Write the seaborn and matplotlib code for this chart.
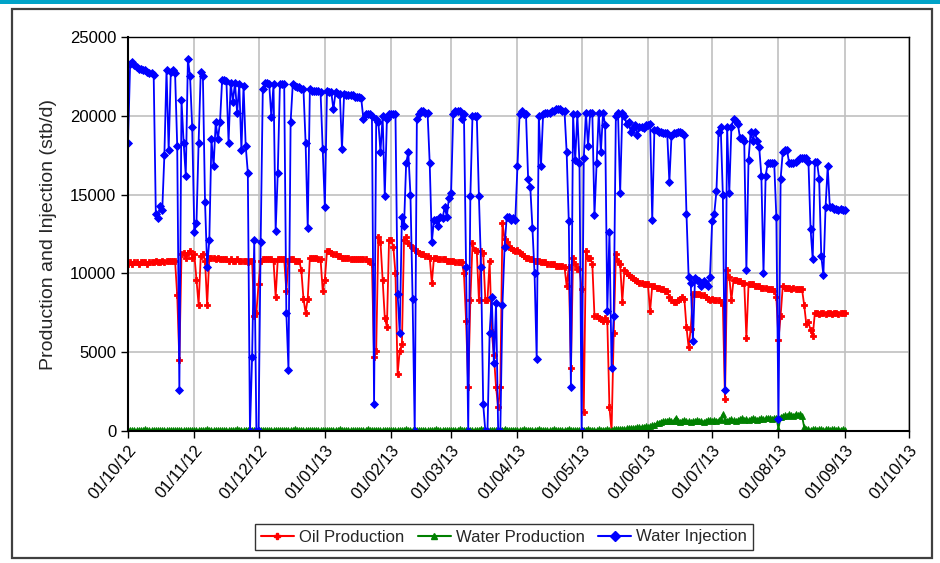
import matplotlib
matplotlib.use("Agg")
import matplotlib.pyplot as plt
import matplotlib.dates as mdates
from matplotlib.patches import Rectangle
from matplotlib.lines import Line2D
import pandas as pd
import seaborn as sns

# ---------------- data (daily, 01/10/12 .. 01/09/13) ----------------
start_date = "2012-10-01"
end_date = "2013-09-01"

oil_production = [
    # Oct 2012
    10600, 10700, 10600, 10700, 10700, 10600, 10700, 10700, 10700, 10600,
    10700, 10700, 10700, 10800, 10700, 10700, 10800, 10700, 10800, 10800,
    10800, 10800, 10800, 8600, 4500, 11200, 11300, 11000, 11300, 11400, 11000,
    # Nov
    11200, 9600, 8000, 11100, 11200, 10800, 8000, 11000, 11000, 11000,
    10900, 11000, 10900, 10900, 10900, 10900, 10800, 10900, 10800, 10800,
    10900, 10800, 10800, 10800, 10800, 10700, 10800, 10800, 7300, 7500,
    # Dec
    9300, 10800, 10900, 10900, 10900, 10900, 10900, 10800, 8500, 10900,
    10900, 10900, 10900, 8900, 10800, 10900, 10900, 10800, 10800, 10800,
    10200, 8400, 7500, 8400, 11000, 11000, 11000, 11000, 10900, 10900, 8900,
    # Jan 2013
    9600, 11400, 11400, 11300, 11200, 11200, 11100, 11100, 11000, 11000,
    11000, 11000, 10900, 10900, 10900, 10900, 10900, 10900, 10900, 10900,
    10800, 10800, 10600, 4700, 5100, 12300, 12000, 9600, 7200, 6600, 12100,
    # Feb
    12100, 11700, 10000, 3600, 5100, 5500, 12100, 12300, 11900, 11800,
    11600, 11500, 11400, 11300, 11200, 11200, 11100, 11100, 11000, 9400,
    11000, 11000, 10900, 10900, 10900, 10900, 10800, 10800,
    # Mar
    10800, 10800, 10700, 10700, 10700, 10700, 10000, 7000, 2800, 8300,
    11900, 11500, 11400, 8300, 11400, 11300, 8300, 8300, 10800, 6300,
    4800, 2800, 1500, 2800, 13200, 12200, 12000, 11700, 11600, 11500, 11400,
    # Apr
    11500, 11300, 11200, 11100, 11000, 11000, 10900, 10900, 10800, 10800,
    10800, 10700, 10700, 10700, 10600, 10600, 10600, 10600, 10500, 10500,
    10500, 10500, 10400, 9200, 10400, 4000, 11000, 10600, 10300, 10300,
    # May
    9000, 1200, 11400, 11000, 11000, 10600, 7300, 7300, 7200, 7100,
    7000, 7200, 7000, 1500, 0, 6200, 11200, 10800, 10600, 8200,
    10200, 10000, 9900, 9800, 9700, 9600, 9500, 9400, 9400, 9300, 9300,
    # Jun
    9300, 7600, 9200, 9200, 9100, 9100, 9000, 9000, 8900, 8900,
    8500, 8300, 8200, 8200, 8300, 8400, 8500, 8400, 6600, 5300,
    6500, 8700, 8700, 8700, 8700, 8600, 8600, 8500, 8400, 8300,
    # Jul
    8400, 8300, 8300, 8300, 8200, 8000, 2000, 10200, 9800, 8300,
    9600, 9600, 9500, 9500, 9400, 9400, 5900, 9300, 9300, 9300,
    9200, 9200, 9200, 9100, 9100, 9100, 9000, 9000, 9000, 8900, 8500,
    # Aug
    5800, 7300, 9200, 9100, 9100, 9100, 9000, 9100, 9000, 9000,
    9000, 9000, 8000, 6800, 6900, 6400, 6000, 7500, 7500, 7400,
    7500, 7500, 7400, 7500, 7500, 7400, 7500, 7500, 7400, 7500, 7500,
    # Sep
    7500,
]

water_production = [
    # Oct
    80, 60, 70, 90, 60, 80, 70, 60, 150, 60, 80, 70, 90, 60, 70, 80,
    60, 90, 70, 60, 80, 70, 60, 90, 70, 60, 80, 70, 60, 80, 70,
    # Nov
    70, 80, 60, 90, 70, 60, 150, 80, 70, 60, 90, 70, 80, 60, 70,
    90, 60, 80, 70, 60, 150, 70, 80, 60, 90, 70, 80, 60, 70, 80,
    # Dec
    60, 80, 70, 90, 60, 80, 70, 60, 90, 70, 80, 60, 70, 90, 60, 80,
    70, 150, 60, 80, 70, 90, 60, 80, 70, 60, 90, 70, 80, 60, 70,
    # Jan
    80, 70, 60, 90, 70, 80, 60, 150, 70, 80, 60, 90, 70, 80, 60, 70,
    90, 60, 80, 70, 150, 60, 80, 70, 90, 60, 80, 70, 60, 90, 70,
    # Feb
    80, 60, 70, 90, 60, 80, 70, 150, 60, 80, 70, 90, 60, 70,
    80, 60, 90, 70, 60, 80, 70, 150, 60, 80, 70, 90, 60, 80,
    # Mar
    70, 80, 60, 90, 150, 70, 80, 60, 70, 90, 60, 80, 70, 60, 150, 80,
    70, 60, 90, 70, 80, 60, 70, 90, 60, 150, 80, 70, 60, 90, 70,
    # Apr
    80, 70, 60, 150, 80, 70, 90, 60, 80, 70, 150, 60, 90, 70, 80,
    60, 70, 150, 90, 60, 80, 70, 60, 90, 150, 80, 70, 60, 90, 80,
    # May
    70, 80, 60, 150, 90, 70, 80, 60, 100, 80, 70, 90, 100, 80, 90, 100,
    120, 100, 130, 150, 140, 160, 180, 200, 190, 220, 240, 230, 260, 280, 300,
    # Jun
    250, 300, 350, 400, 480, 520, 600, 640, 620, 650, 700, 640, 620, 850, 640,
    600, 650, 700, 640, 620, 600, 650, 640, 700, 640, 620, 600, 650, 700, 680,
    # Jul
    650, 700, 640, 700, 750, 1060, 700, 650, 700, 750, 700, 640, 700, 750, 800,
    700, 750, 700, 760, 800, 750, 700, 760, 800, 750, 800, 850, 800, 760, 820, 850,
    # Aug
    150, 900, 950, 1000, 950, 1050, 1000, 950, 1100, 1000, 1050, 950, 250, 150, 100,
    80, 120, 100, 90, 100, 120, 80, 100, 110, 90, 100, 120, 80, 100, 90, 100,
    # Sep
    90,
]

water_injection = [
    # Oct
    18300, 23300, 23400, 23200, 23100, 23000, 23000, 22900, 22900, 22800,
    22700, 22700, 22600, 13800, 13500, 14300, 14000, 17500, 22900, 17800,
    22800, 22900, 22700, 18100, 2600, 21000, 18300, 16200, 23600, 22500, 19300,
    # Nov
    12600, 13200, 18300, 22800, 22500, 14500, 10400, 12100, 18500, 16800,
    19600, 18500, 19600, 22300, 22300, 22200, 18300, 22100, 20900, 22100,
    20200, 22000, 17800, 21900, 18100, 16400, 0, 4700, 12100, 0,
    # Dec
    0, 12000, 21700, 22100, 22100, 22000, 19900, 22000, 12700, 16400,
    22000, 22000, 22000, 7500, 3900, 19600, 22000, 21900, 21800, 21800,
    21700, 21700, 18300, 12900, 21700, 21600, 21600, 21600, 21600, 21500, 17900,
    # Jan
    14200, 21600, 21500, 21500, 20400, 21500, 21400, 21400, 17900, 21400,
    21300, 21300, 21300, 21300, 21200, 21200, 21200, 21100, 19800, 20100,
    20100, 20100, 20000, 1700, 19800, 19600, 17700, 20000, 14900, 19800, 20100,
    # Feb
    20100, 20100, 20100, 8700, 6200, 13600, 13000, 17000, 17700, 15000,
    8400, 0, 19800, 20100, 20300, 20300, 20200, 20200, 17000, 12000,
    13400, 13400, 13000, 13600, 13500, 14200, 13600, 14800,
    # Mar
    15100, 20100, 20300, 20300, 20300, 19800, 20100, 10400, 0, 14900,
    20000, 20000, 20000, 14900, 10400, 1700, 0, 0, 6200, 8500,
    4300, 8100, 0, 0, 8000, 11700, 13600, 13600, 13400, 13500, 13400,
    # Apr
    16800, 20100, 20300, 20100, 20100, 16000, 15500, 12900, 10000, 4600,
    20000, 16800, 20100, 20200, 20200, 20200, 20300, 20300, 20400, 20400,
    20400, 20300, 20300, 17700, 13300, 2800, 20100, 17200, 20100, 17000,
    # May
    0, 17300, 20200, 18100, 20200, 20200, 13700, 17000, 20200, 17700,
    20200, 19400, 7600, 12600, 4000, 7300, 20000, 20200, 15100, 20200,
    20000, 19500, 19600, 19000, 19200, 19400, 18800, 19300, 19300, 19200, 19400,
    # Jun
    19400, 19500, 13400, 19100, 19100, 19000, 19000, 18900, 18900, 18900,
    15800, 18700, 18900, 18900, 19000, 19000, 18900, 18800, 13800, 9800,
    9400, 5700, 9700, 9600, 9500, 9200, 9500, 9300, 9200, 9800,
    # Jul
    13300, 13800, 15200, 19000, 19300, 15000, 2600, 19300, 15100, 19300,
    19800, 19700, 19500, 18600, 18600, 18400, 10200, 17200, 19000, 18400,
    19000, 18400, 18000, 16200, 10000, 16200, 17000, 17000, 17000, 17000, 13600,
    # Aug
    750, 16000, 17700, 17800, 17800, 17000, 17000, 17000, 17100, 17200,
    17300, 17300, 17300, 17300, 17100, 12800, 10900, 17100, 17100, 16000,
    11100, 9900, 14200, 16800, 14200, 14200, 14100, 14100, 14000, 14100, 14000,
    # Sep
    14000,
]

series_names = ["Oil Production", "Water Production", "Water Injection"]
series_colors = ["#FF0000", "#008000", "#0000FF"]
series_markers = ["P", "^", "D"]
y_ticks = [0, 5000, 10000, 15000, 20000, 25000]
y_label = "Production and Injection (stb/d)"

# ---------------- figure ----------------
sns.set_theme(style="white")
plt.rcParams["font.family"] = ["Liberation Sans", "DejaVu Sans"]

W, H = 940, 563
fig = plt.figure(figsize=(W / 100, H / 100), dpi=100)
fig.patch.set_facecolor("white")

# outer frame and thin top band
fig.patches.append(Rectangle((0, 1 - 4 / H), 1, 4 / H, transform=fig.transFigure,
                             facecolor="#00A3C8", edgecolor="none"))
fig.patches.append(Rectangle((12 / W, 1 - 558 / H), (932 - 12) / W, (558 - 9) / H,
                             transform=fig.transFigure, fill=False,
                             edgecolor="#404040", linewidth=1.6))

x0, x1, yt, yb = 128, 909, 37, 431
ax = fig.add_axes([x0 / W, 1 - yb / H, (x1 - x0) / W, (yb - yt) / H])

dates = pd.date_range(start_date, end_date, freq="D")
frames = []
for name, vals in zip(series_names, [oil_production, water_production, water_injection]):
    frames.append(pd.DataFrame({"date": dates, "value": vals, "series": name}))
df = pd.concat(frames, ignore_index=True)

for name, col, mk in zip(series_names, series_colors, series_markers):
    sub = df[df["series"] == name]
    sns.lineplot(data=sub, x="date", y="value", color=col, marker=mk,
                 markersize=4.2, markeredgewidth=0.6, markeredgecolor=col,
                 linewidth=1.3, estimator=None, ax=ax, legend=False)

ax.set_xlim(pd.Timestamp("2012-10-01"), pd.Timestamp("2013-10-01"))
ax.set_ylim(0, 25000)
ax.set_yticks(y_ticks)
ax.set_yticklabels([str(v) for v in y_ticks])
ax.xaxis.set_major_locator(mdates.MonthLocator())
ax.xaxis.set_major_formatter(mdates.DateFormatter("%d/%m/%y"))

ax.grid(True, color="#C0C0C0", linewidth=1.2)
ax.set_axisbelow(True)
for s in ax.spines.values():
    s.set_visible(True)
    s.set_color("black")
    s.set_linewidth(1.0)
ax.spines["left"].set_linewidth(1.5)
ax.spines["bottom"].set_linewidth(1.5)

ax.tick_params(axis="both", direction="out", length=5, width=1, color="black",
               labelsize=12, labelcolor="black", left=True, bottom=True)
for lab in ax.get_xticklabels():
    lab.set_rotation(50)
    lab.set_ha("right")
    lab.set_rotation_mode("anchor")
ax.set_xlabel("")
ax.set_ylabel(y_label, fontsize=14, labelpad=9)

handles = [Line2D([0], [0], color=c, marker=m, markersize=5, markeredgecolor=c,
                  linewidth=1.5) for c, m in zip(series_colors, series_markers)]
leg = fig.legend(handles, series_names, loc="center",
                 bbox_to_anchor=(504 / W, 1 - 537 / H), ncol=3, frameon=True,
                 fancybox=False, shadow=False, fontsize=12, handlelength=2.0,
                 handletextpad=0.3, columnspacing=0.8, borderpad=0.35)
leg.get_frame().set_edgecolor("black")
leg.get_frame().set_linewidth(1.0)

fig.savefig("out.png", dpi=100)
